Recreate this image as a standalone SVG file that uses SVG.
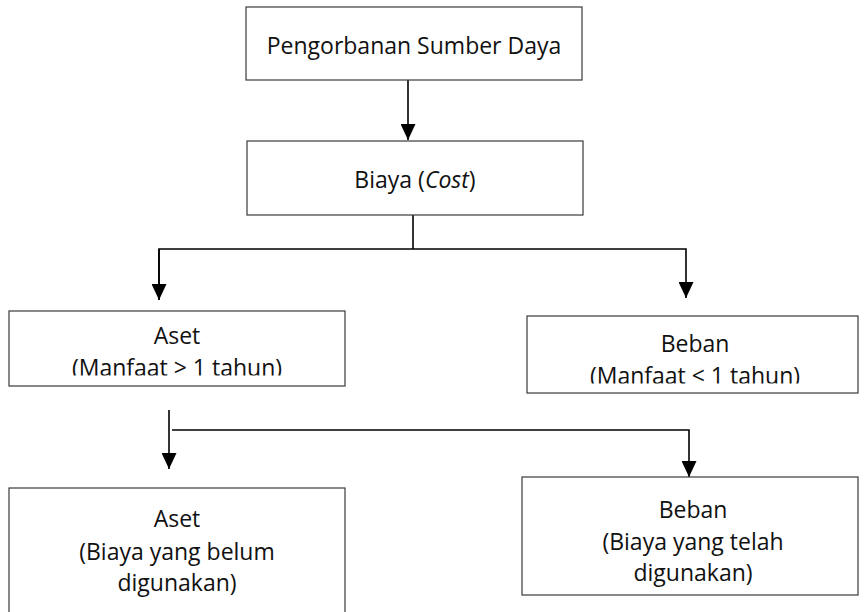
<svg xmlns="http://www.w3.org/2000/svg" width="866" height="612" viewBox="0 0 866 612">
<style>
.box{fill:#fff;stroke:#3a3a3a;stroke-width:1.2}
.t{font-family:"Open Sans","Liberation Sans",sans-serif;font-size:23px;fill:#111;text-anchor:middle}
.c{fill:none;stroke:#000;stroke-width:1.6}
</style>
<defs>
<marker id="ah" markerUnits="userSpaceOnUse" markerWidth="16" markerHeight="15" refX="16" refY="7.5" orient="auto" viewBox="0 0 16 15">
<path d="M0,0 L16,7.5 L0,15 z" fill="#000"/>
</marker>
<clipPath id="clip3"><rect x="9" y="311" width="336" height="64.5"/></clipPath>
<clipPath id="clip4"><rect x="527" y="316" width="331" height="67.5"/></clipPath>
</defs>
<g id="connectors">
<line class="c" x1="408" y1="80" x2="408" y2="140" marker-end="url(#ah)"/>
<polyline class="c" points="413,215 413,249"/>
<polyline class="c" points="159,300 159,249 686,249 686,298" marker-end="url(#ah)"/>
<line class="c" x1="159" y1="249" x2="159" y2="300" marker-end="url(#ah)"/>
<line class="c" x1="169" y1="410" x2="169" y2="469" marker-end="url(#ah)"/>
<polyline class="c" points="172,430 689,430 689,477" marker-end="url(#ah)"/>
</g>
<g id="node-pengorbanan">
<rect class="box" x="246" y="7" width="336" height="73"/>
<text class="t" x="414" y="54">Pengorbanan Sumber Daya</text>
</g>
<g id="node-biaya">
<rect class="box" x="247" y="141" width="336" height="74"/>
<text class="t" x="415" y="188">Biaya (<tspan font-style="italic">Cost</tspan>)</text>
</g>
<g id="node-aset1">
<rect class="box" x="9" y="311" width="336" height="75"/>
<g clip-path="url(#clip3)">
<text class="t" x="177" y="344">Aset</text>
<text class="t" x="177" y="376">(Manfaat &gt; 1 tahun)</text>
</g>
</g>
<g id="node-beban1">
<rect class="box" x="527" y="316" width="331" height="77"/>
<g clip-path="url(#clip4)">
<text class="t" x="695" y="352">Beban</text>
<text class="t" x="695" y="384">(Manfaat &lt; 1 tahun)</text>
</g>
</g>
<g id="node-aset2">
<rect class="box" x="9" y="488" width="336" height="140"/>
<text class="t" x="177" y="527">Aset</text>
<text class="t" x="177" y="560">(Biaya yang belum</text>
<text class="t" x="177" y="591">digunakan)</text>
</g>
<g id="node-beban2">
<rect class="box" x="522" y="477" width="336" height="118"/>
<text class="t" x="693" y="518">Beban</text>
<text class="t" x="693" y="550">(Biaya yang telah</text>
<text class="t" x="693" y="581">digunakan)</text>
</g>
</svg>
